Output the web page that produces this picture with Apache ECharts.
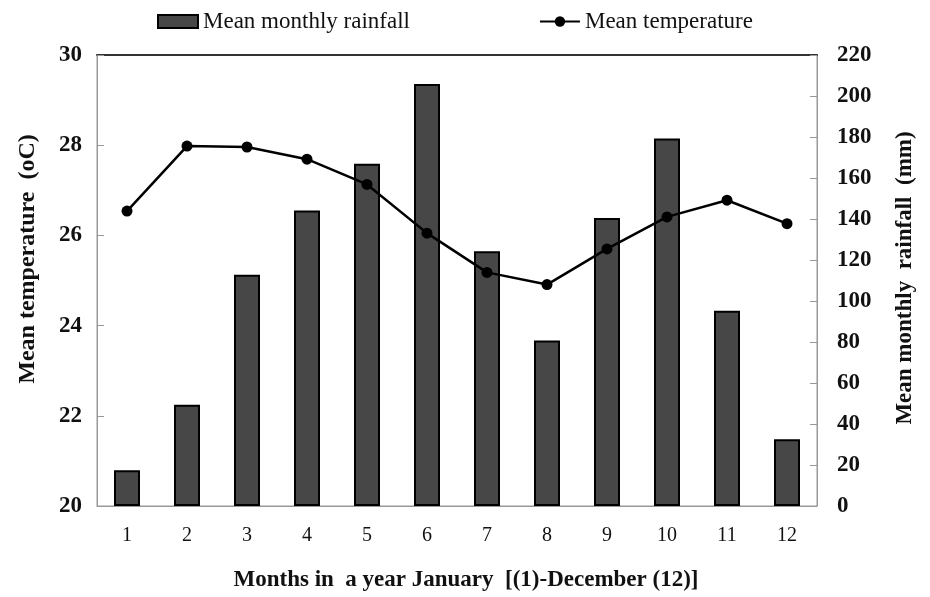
<!DOCTYPE html>
<html><head><meta charset="utf-8">
<script src="https://cdn.jsdelivr.net/npm/echarts@6/dist/echarts.min.js"></script>
<style>html,body{margin:0;padding:0;background:#fff}#c{width:930px;height:597px}</style>
</head><body><div id="c"></div>
<script>
const months = ['1','2','3','4','5','6','7','8','9','10','11','12'];
const rainfall = [17.5, 49.4, 112.8, 144.2, 167, 205.8, 124.3, 80.7, 140.5, 179.3, 95.3, 32.6];
const temperature = [26.54, 27.98, 27.96, 27.69, 27.13, 26.05, 25.18, 24.91, 25.70, 26.41, 26.78, 26.26];

const F = 'Liberation Serif';
const chart = echarts.init(document.getElementById('c'));
chart.setOption({
  animation: false,
  textStyle: { fontFamily: F },
  legend: {
    top: 5, left: 152, itemGap: 129, itemWidth: 40, itemHeight: 13,
    textStyle: { fontFamily: F, fontSize: 23, color: '#111' },
    data: [
      { name: 'Mean monthly rainfall', icon: 'rect' },
      { name: 'Mean temperature' }
    ]
  },
  grid: { left: 97, right: 113, top: 55, bottom: 91, show: true, borderColor: '#999', borderWidth: 1 },
  graphic: [
    { type: 'text', rotation: Math.PI / 2, x: 28, y: 259,
      style: { text: 'Mean temperature  (oC)', font: 'bold 24px "Liberation Serif"', fill: '#111', align: 'center', verticalAlign: 'middle' } },
    { type: 'text', rotation: Math.PI / 2, x: 905, y: 278,
      style: { text: 'Mean monthly  rainfall  (mm)', font: 'bold 23px "Liberation Serif"', fill: '#111', align: 'center', verticalAlign: 'middle' } },
    { type: 'text', x: 466, y: 580,
      style: { text: 'Months in  a year January  [(1)-December (12)]', font: 'bold 23px "Liberation Serif"', fill: '#111', align: 'center', verticalAlign: 'middle' } }
  ],
  xAxis: [{
    type: 'category', data: months,
    axisLine: { lineStyle: { color: '#999' } },
    axisTick: { show: false },
    axisLabel: { fontFamily: F, fontSize: 20, color: '#111', margin: 20 }
  }, {
    type: 'category', data: months, position: 'top',
    axisLine: { lineStyle: { color: '#333', width: 2 } },
    axisTick: { show: false }, axisLabel: { show: false }
  }],
  yAxis: [{
    type: 'value', min: 20, max: 30, interval: 2, position: 'left',
    axisLine: { show: true, lineStyle: { color: '#999' } },
    axisTick: { show: true, inside: true, length: 7, lineStyle: { color: '#999' } },
    splitLine: { show: false },
    axisLabel: { fontFamily: F, fontSize: 23, fontWeight: 'bold', color: '#111', margin: 15 }
  }, {
    type: 'value', min: 0, max: 220, interval: 20, position: 'right',
    axisLine: { show: true, lineStyle: { color: '#999' } },
    axisTick: { show: true, inside: true, length: 7, lineStyle: { color: '#999' } },
    splitLine: { show: false },
    axisLabel: { fontFamily: F, fontSize: 23, fontWeight: 'bold', color: '#111', margin: 20 }
  }],
  series: [{
    name: 'Mean monthly rainfall', type: 'bar', yAxisIndex: 1, data: rainfall,
    barWidth: 26,
    itemStyle: { color: '#474747', borderColor: '#000', borderWidth: 2 }
  }, {
    name: 'Mean temperature', type: 'line', yAxisIndex: 0, data: temperature,
    symbol: 'circle', symbolSize: 11,
    lineStyle: { color: '#000', width: 2.5 },
    itemStyle: { color: '#000' }
  }]
});
</script></body></html>
